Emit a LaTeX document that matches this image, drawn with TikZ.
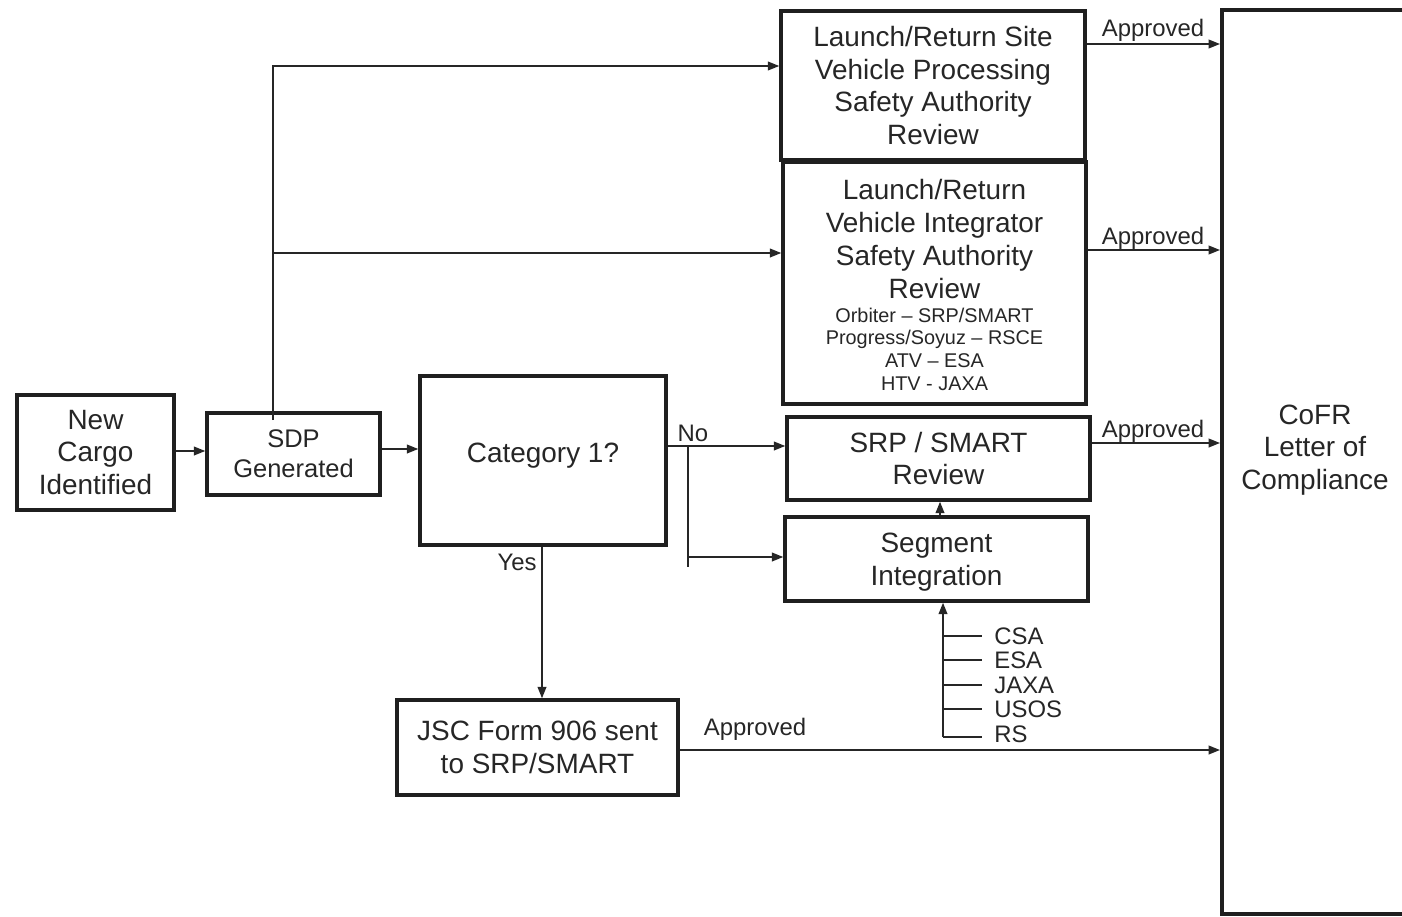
\documentclass[tikz,border=0pt]{standalone}
\usepackage{fontspec}
\setmainfont{Liberation Sans}
\usetikzlibrary{arrows.meta,calc}
\newcommand\fbig{\fontsize{15.9}{18.7}\selectfont}
\newcommand\fsdp{\fontsize{14.5}{17}\selectfont}
\newcommand\fsmall{\fontsize{11.3}{12.9}\selectfont}
\newcommand\flab{\fontsize{13.6}{16}\selectfont}
\begin{document}
\begin{tikzpicture}[x=0.02cm,y=-0.02cm,
  box/.style={draw=black!88, line width=2pt, rectangle, inner sep=0pt, align=center, font=\fbig, text=black!85},
  txt/.style={inner sep=0pt, align=center, font=\fbig, text=black!85},
  lab/.style={inner sep=0pt, anchor=base, font=\flab, text=black!85},
  conn/.style={draw=black!85, line width=0.9pt},
  arr/.style={conn, -{Triangle[length=6.5pt,width=5pt]}}
]
\useasboundingbox (0,0) rectangle (1402,916);
\clip (0,0) rectangle (1402,916);

% boxes
\node[box, minimum width=157*0.02cm, minimum height=115*0.02cm] (newc) at (95.5,452.5) {New\\Cargo\\Identified};
\node[box, font=\fsdp, minimum width=173*0.02cm, minimum height=82*0.02cm] (sdp) at (293.5,454) {SDP\\Generated};
\node[box, minimum width=246*0.02cm, minimum height=169*0.02cm] (cat) at (543,460.5) {};
\node[txt] (catt) at (543,456) {Category 1?};
\node[box, minimum width=304*0.02cm, minimum height=149*0.02cm] (lrs) at (933,85.5) {Launch/Return Site\\Vehicle Processing\\Safety Authority\\Review};
\node[box, minimum width=303*0.02cm, minimum height=242*0.02cm] (lrv) at (934.5,283) {};
\node[txt] (lrvt) at (934.5,239) {Launch/Return\\Vehicle Integrator\\Safety Authority\\Review};
\node[txt, font=\fsmall] (lrvs) at (934.5,349) {Orbiter – SRP/SMART\\Progress/Soyuz – RSCE\\ATV – ESA\\HTV - JAXA};
\node[box, minimum width=303*0.02cm, minimum height=83*0.02cm] (srp) at (938.5,458.5) {SRP / SMART\\Review};
\node[box, minimum width=303*0.02cm, minimum height=84*0.02cm] (seg) at (936.5,559) {};
\node[txt] (segt) at (936.5,562) {Segment\\Integration};
\node[box, minimum width=281*0.02cm, minimum height=95*0.02cm] (jsc) at (537.5,747.5) {JSC Form 906 sent\\to SRP/SMART};
\node[box, line width=2.3pt, minimum width=190*0.02cm, minimum height=904*0.02cm] (cofr) at (1317,462) {};
\node[txt] (cofrt) at (1315,450) {CoFR\\Letter of\\Compliance};

% connectors
\draw[arr] (newc.east |- 0,451) -- (sdp.west |- 0,451);
\draw[arr] (sdp.east |- 0,449) -- (cat.west |- 0,449);
\coordinate (sdptop) at (273,420);
\draw[arr] (sdptop) |- (lrs.west |- 0,66);
\draw[arr] (sdptop |- 0,253) -- (lrv.west |- 0,253);

\draw[arr] (cat.east |- 0,446) -- (srp.west |- 0,446);
\node[lab] (no) at (693,441) {No};
\coordinate (nb) at (688,446);
\draw[conn] (nb) -- (688,567);
\draw[arr] (688,557) -- (seg.west |- 0,557);

\draw[arr] (cat.south -| 542,0) -- (jsc.north -| 542,0);
\node[lab] (yes) at (517,570) {Yes};

\draw[arr] (seg.north -| 940,0) -- (srp.south -| 940,0);

\coordinate (ag) at (943,737);
\draw[arr] (ag) -- (ag |- seg.south);
\foreach \yy/\nm in {636/CSA,660/ESA,685/JAXA,709/USOS,737/RS}{
  \draw[conn] (943,\yy) -- (982,\yy);
}
\node[lab, anchor=base west] (csa) at (994,644) {CSA};
\node[lab, anchor=base west] (esa) at (994,668) {ESA};
\node[lab, anchor=base west] (jaxa) at (994,693) {JAXA};
\node[lab, anchor=base west] (usos) at (994,717) {USOS};
\node[lab, anchor=base west] (rs) at (994,742) {RS};

\draw[arr] (lrs.east |- 0,44) -- (cofr.west |- 0,44);
\node[lab] (ap1) at (1153,36) {Approved};
\draw[arr] (lrv.east |- 0,250) -- (cofr.west |- 0,250);
\node[lab] (ap2) at (1153,244) {Approved};
\draw[arr] (srp.east |- 0,443) -- (cofr.west |- 0,443);
\node[lab] (ap3) at (1153,437) {Approved};
\draw[arr] (jsc.east |- 0,750) -- (cofr.west |- 0,750);
\node[lab] (ap4) at (755,735) {Approved};
\end{tikzpicture}
\end{document}
